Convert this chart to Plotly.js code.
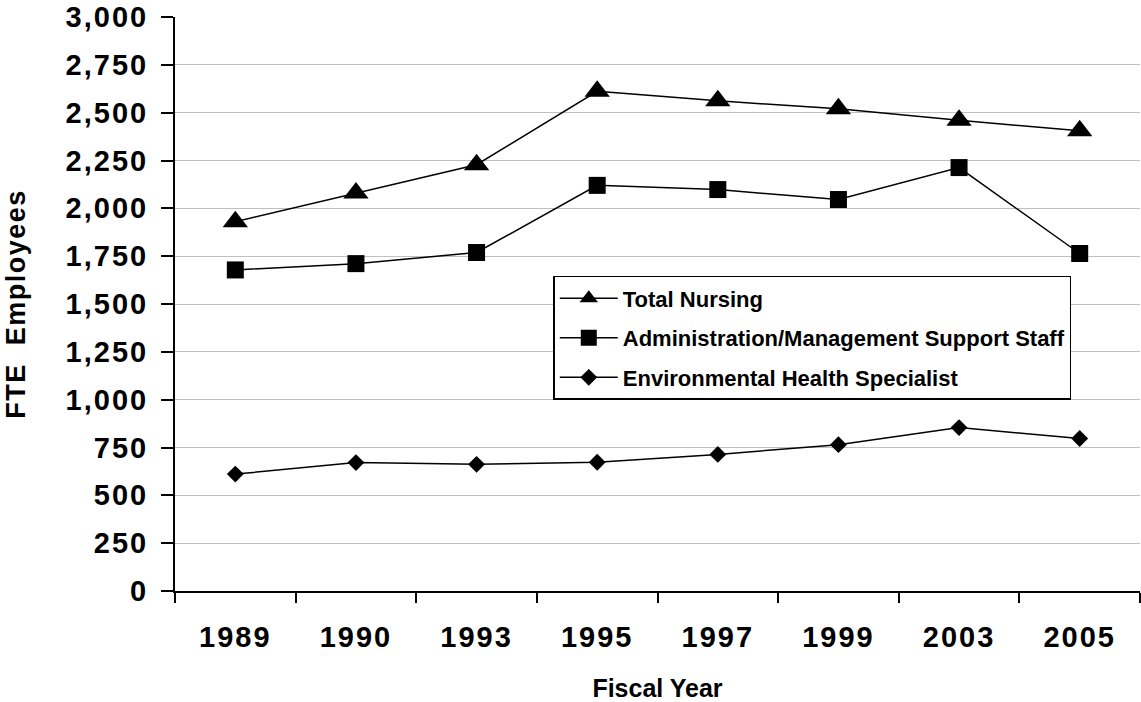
<!DOCTYPE html>
<html>
<head>
<meta charset="utf-8">
<script src="https://cdn.plot.ly/plotly-3.0.1.min.js"></script>
<style>
  html, body { margin: 0; padding: 0; background: #fff; }
  #chart { width: 1141px; height: 702px; }
  .xtick text { letter-spacing: 2px; }
  .ytick text { letter-spacing: 2px; }
  .g-ytitle text { letter-spacing: 1.5px; }
</style>
</head>
<body>
<div id="chart"></div>
<script>
const years = ["1989", "1990", "1993", "1995", "1997", "1999", "2003", "2005"];
const totalNursing = [1930, 2080, 2228, 2612, 2562, 2520, 2460, 2405];
const adminSupport = [1678, 1711, 1769, 2120, 2098, 2046, 2213, 1764];
const envHealth = [611, 671, 662, 673, 714, 765, 854, 797];

const seriesNames = [
  "Total Nursing",
  "Administration/Management Support Staff",
  "Environmental Health Specialist"
];

const FONT = "'Liberation Sans', Arial, Helvetica, sans-serif";

function mk(name, values, symbol, size, group) {
  return {
    type: "scatter",
    mode: "lines+markers",
    name: name,
    legendgroup: group,
    x: years,
    y: values,
    line: { color: "#000000", width: 1.5 },
    marker: { symbol: symbol, size: size, color: "#000000", line: { width: 0 } },
    hoverinfo: "x+y+name"
  };
}

const data = [
  mk(seriesNames[0], totalNursing, "triangle-up", 22, "g1"),
  mk(seriesNames[1], adminSupport, "square", 17, "g2"),
  mk(seriesNames[2], envHealth, "diamond", 13, "g3")
];

const layout = {
  width: 1141,
  height: 702,
  margin: { l: 175, r: 1, t: 17, b: 111, pad: 0 },
  paper_bgcolor: "#ffffff",
  plot_bgcolor: "#ffffff",
  font: { family: FONT, color: "#000000", weight: "bold" },
  showlegend: true,
  legend: {
    x: 0.392, y: 0.549, xanchor: "left", yanchor: "top",
    bgcolor: "#ffffff",
    bordercolor: "#000000",
    borderwidth: 1.5,
    tracegroupgap: 8,
    itemwidth: 58,
    font: { family: FONT, size: 22, color: "#000000", weight: "bold" }
  },
  xaxis: {
    type: "category",
    range: [-0.5, 7.5],
    tickson: "boundaries",
    ticks: "outside",
    ticklen: 10,
    tickwidth: 2,
    tickcolor: "#000000",
    showline: true,
    linecolor: "#000000",
    linewidth: 2,
    showgrid: false,
    zeroline: false,
    ticklabelstandoff: 19,
    tickfont: { family: FONT, size: 29, color: "#000000", weight: "bold" },
    title: {
      text: "Fiscal Year",
      standoff: 30,
      font: { family: FONT, size: 25, color: "#000000", weight: "bold" }
    },
    fixedrange: true
  },
  yaxis: {
    range: [0, 3000],
    tick0: 0,
    dtick: 250,
    tickformat: ",d",
    ticks: "outside",
    ticklen: 12,
    tickwidth: 2,
    tickcolor: "#000000",
    showline: true,
    linecolor: "#000000",
    linewidth: 2,
    showgrid: true,
    gridcolor: "#c0c0c0",
    gridwidth: 1,
    zeroline: false,
    ticklabelstandoff: 7,
    tickfont: { family: FONT, size: 29, color: "#000000", weight: "bold" },
    title: {
      text: "FTE  Employees",
      standoff: 32,
      font: { family: FONT, size: 27, color: "#000000", weight: "bold" }
    },
    fixedrange: true
  }
};

Plotly.newPlot("chart", data, layout, { displayModeBar: false, staticPlot: true });
</script>
</body>
</html>
